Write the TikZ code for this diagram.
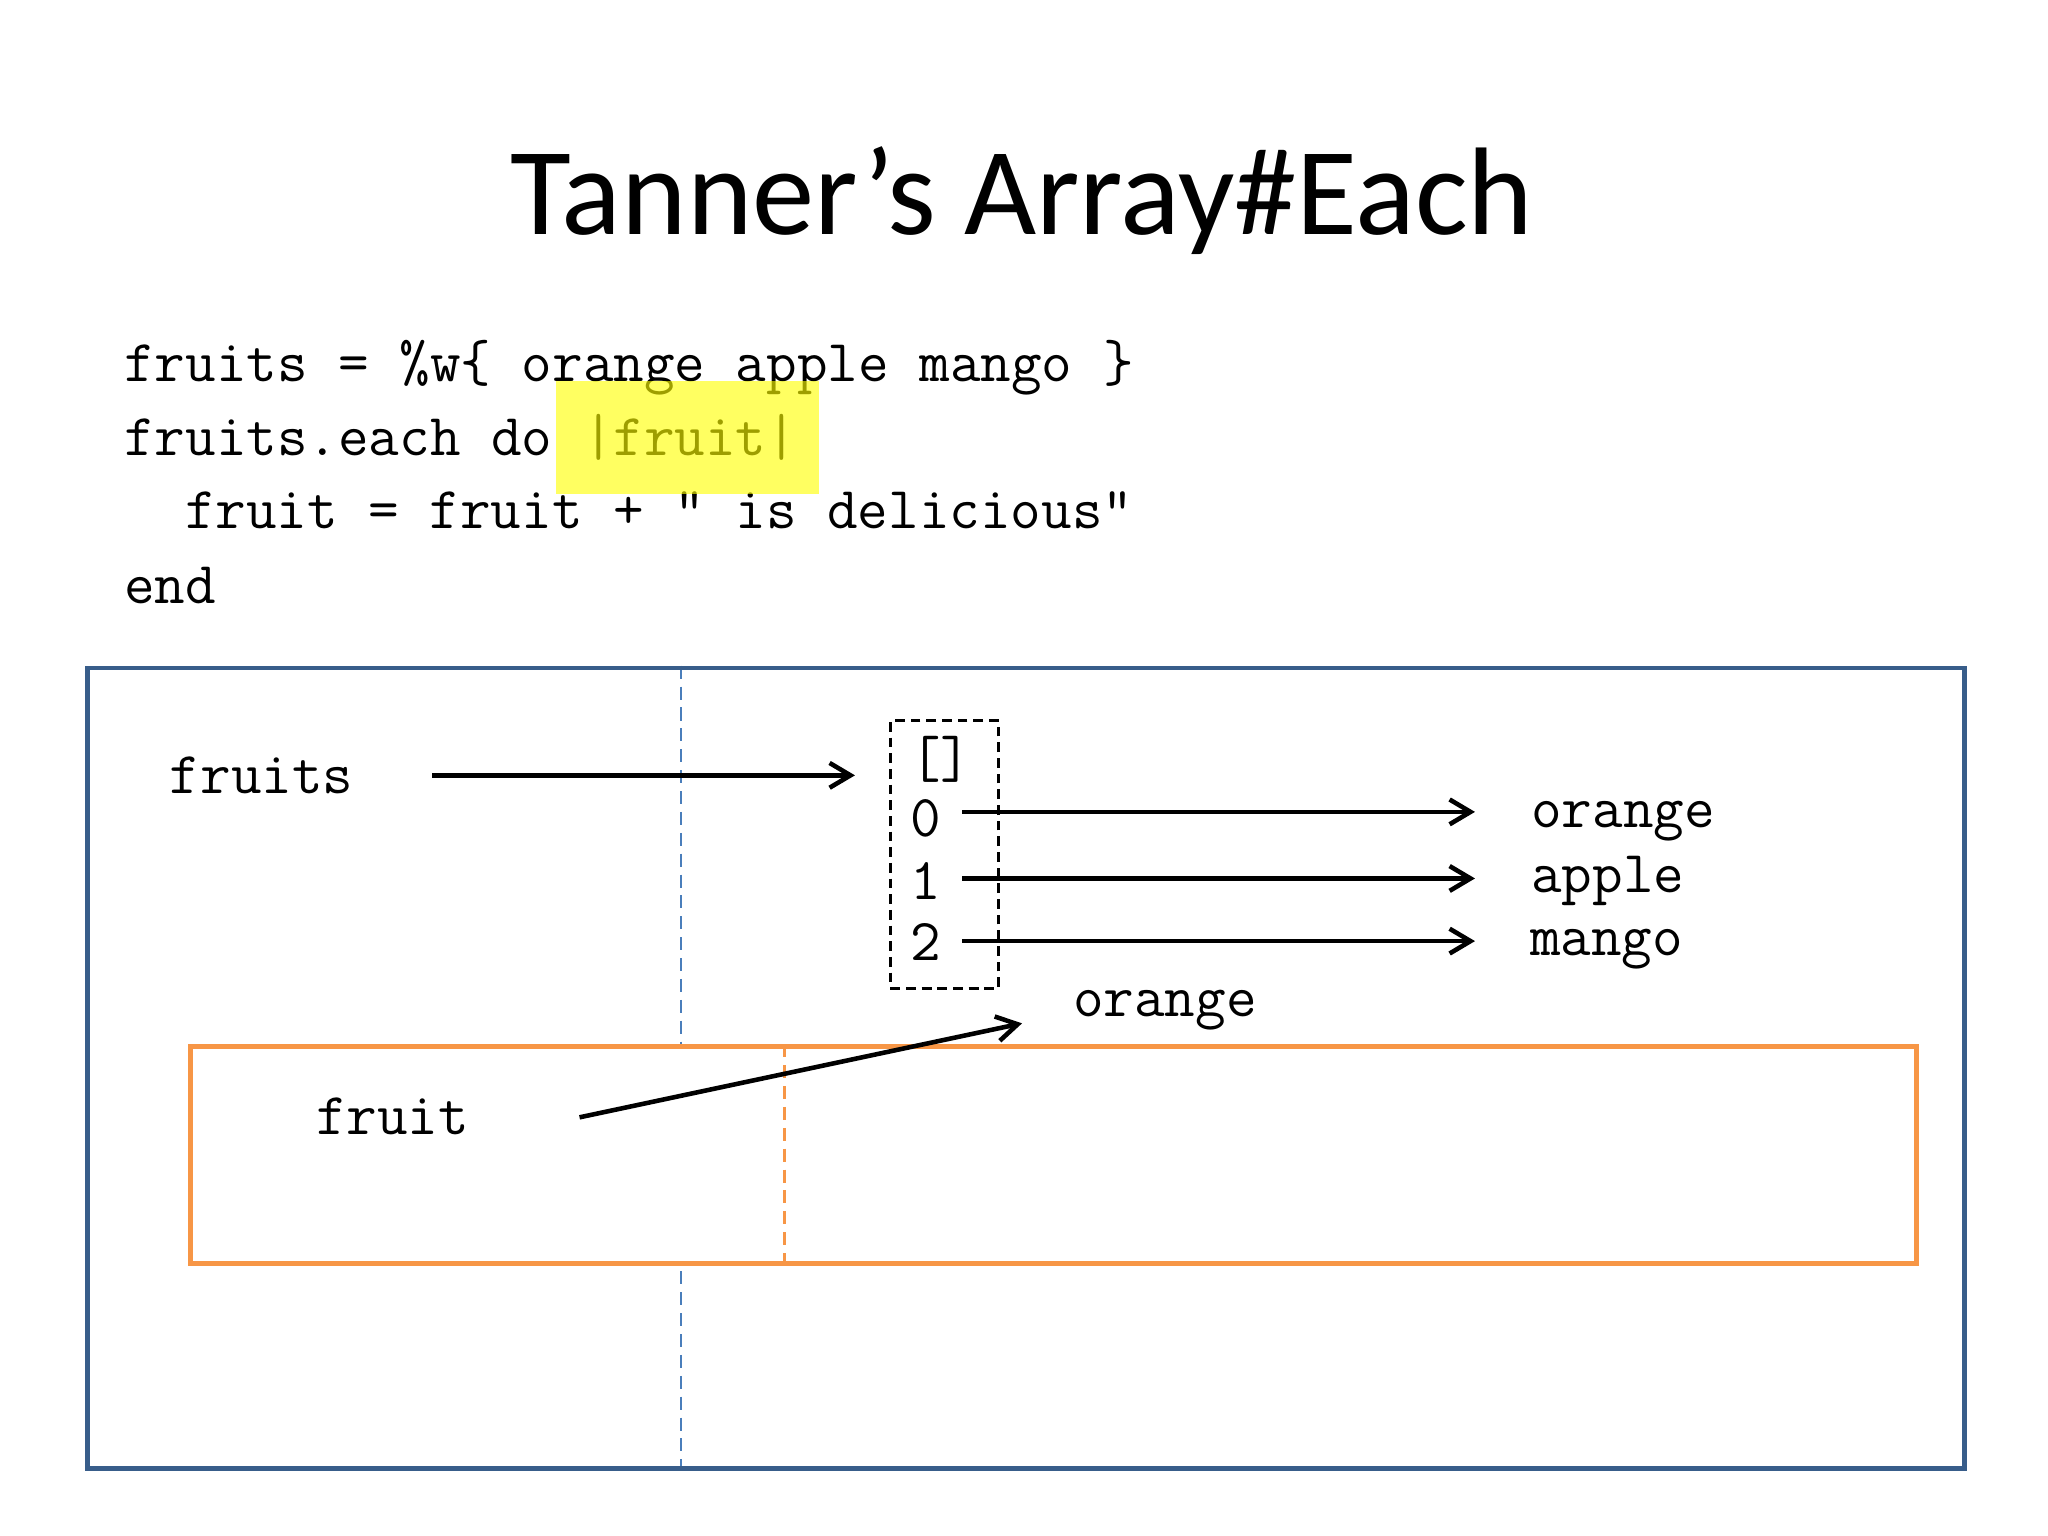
\documentclass[tikz,border=0pt]{standalone}
\usepackage{fontspec}
\setmainfont{Carlito}
\usetikzlibrary{arrows.meta}
\definecolor{frameblue}{RGB}{56,93,138}
\definecolor{dashblue}{RGB}{74,126,187}
\definecolor{frameorange}{RGB}{247,150,70}
\definecolor{hlyellow}{RGB}{255,255,0}
\begin{document}
\begin{tikzpicture}[x=1pt,y=-1pt,
  code/.style={font=\ttfamily\fontsize{45.5}{52}\selectfont, anchor=base west, inner sep=0pt},
  ptr/.style={line width=3.5pt, -{Straight Barb[length=16pt,width=19pt,line width=3.5pt]}},
  framebox/.style={draw=frameblue, line width=3.6pt, anchor=north west, inner sep=0pt},
  orangebox/.style={draw=frameorange, fill=white, line width=4pt, anchor=north west, inner sep=0pt},
  bluedash/.style={draw=dashblue, line width=1.6pt, dash pattern=on 10pt off 6pt},
  orangedash/.style={draw=frameorange, line width=2pt, dash pattern=on 10pt off 6pt},
  arraybox/.style={draw=black, line width=2.3pt, dash pattern=on 7.5pt off 4.5pt, anchor=north west, inner sep=0pt},
]
\useasboundingbox[fill=white] (0,0) rectangle (1569,1176.75);

% title
\node[font=\fontsize{95.5}{110}\selectfont, anchor=base, inner sep=0pt] (title) at (783,180) {Tanner’s Array\#Each};

% code
\node[code] (l1) at (95,292) {fruits = \%w\{ orange apple mango \}};
\node[code] (l2) at (95,349) {fruits.each do |fruit|};
\node[code] (l3) at (141.6,405) {fruit = fruit + " is delicious"};
\node[code] (l4) at (95,462) {end};
\node[fill=hlyellow, opacity=0.62, inner sep=0pt, minimum width=201pt, minimum height=86pt, anchor=north west] (hl) at (426,292) {};

% outer frame and dashed divider
\coordinate (bt) at (522,510);
\coordinate (bb) at (522,1123);
\draw[bluedash] (bt) -- (bb);
\node[framebox, minimum width=1438pt, minimum height=613pt] (frame) at (65,510) {};

% orange frame
\node[orangebox, minimum width=1322pt, minimum height=166pt] (scope) at (144,800) {};
\coordinate (ot) at (601,800);
\coordinate (ob) at (601,966);
\draw[orangedash] (ot) -- (ob);

% fruits pointer
\node[code] (fruits) at (130,608) {fruits};
\node[arraybox, minimum width=83pt, minimum height=205pt] (arr) at (681,551) {};
\coordinate (fs) at (331,594);
\coordinate (fe) at (655,594);
\draw[ptr] (fs) -- (fe);

\node[code] (br) at (697,596) {[]};
\node[code] (i0) at (697,641) {0};
\node[code] (i1) at (697,689) {1};
\node[code] (i2) at (697,736) {2};

\node[code] (v0) at (1173,634) {orange};
\node[code] (v1) at (1173,684) {apple};
\node[code] (v2) at (1172,732) {mango};

\coordinate (s0) at (737,622);
\coordinate (e0) at (1130,622);
\coordinate (s1) at (737,673);
\coordinate (e1) at (1130,673);
\coordinate (s2) at (737,721);
\coordinate (e2) at (1130,721);
\draw[ptr] (s0) -- (e0);
\draw[ptr] (s1) -- (e1);
\draw[ptr] (s2) -- (e2);

% fruit block variable
\node[code] (cur) at (822,779) {orange};
\node[code] (fruit) at (242,869) {fruit};
\coordinate (fa) at (444,856);
\coordinate (fb) at (783,784);
\draw[ptr] (fa) -- (fb);
\end{tikzpicture}
\end{document}
